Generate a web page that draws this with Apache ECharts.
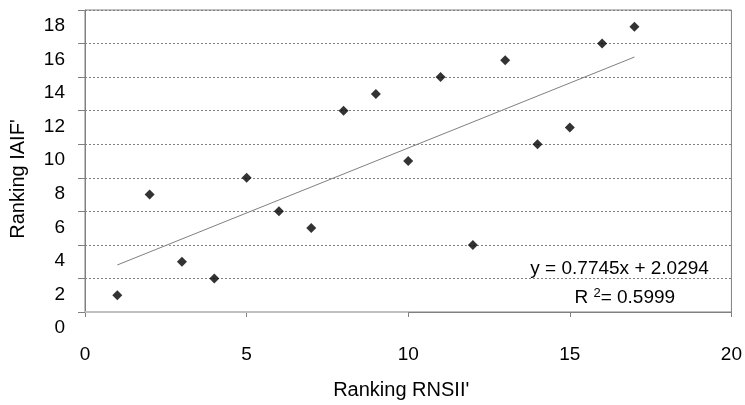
<!DOCTYPE html>
<html>
<head>
<meta charset="utf-8">
<script src="https://cdn.jsdelivr.net/npm/echarts@6/dist/echarts.min.js"></script>
<style>
  html, body { margin: 0; padding: 0; background: #ffffff; }
  #chart { width: 745px; height: 405px; }
</style>
</head>
<body>
<div id="chart"></div>
<script>
// Rankings of the 17 items under both indices
const rankRNSII = [1, 2, 3, 4, 5, 6, 7, 8, 9, 10, 11, 12, 13, 14, 15, 16, 17];
const rankIAIF  = [1, 7, 3, 2, 8, 6, 5, 12, 13, 9, 14, 4, 15, 10, 11, 16, 17];

// Linear trend line fitted to the rankings
const trendSlope = 0.7745;
const trendIntercept = 2.0294;
const trendR2 = 0.5999;
const trendRange = [1, 17];

// Axis extents
const xAxisRange = [0, 20, 5];
const yAxisRange = [0, 18, 2];

const FONT = "'Liberation Sans', Arial, sans-serif";

const points = rankRNSII.map((x, i) => [x, rankIAIF[i]]);
const trendPoints = trendRange.map(x => [x, trendSlope * x + trendIntercept]);

const chart = echarts.init(document.getElementById('chart'), null, { renderer: 'canvas' });

chart.setOption({
  animation: false,
  backgroundColor: '#ffffff',
  textStyle: { fontFamily: FONT, color: '#000' },
  grid: {
    left: 84, right: 11, top: 10, bottom: 92,
    show: true, borderColor: '#808080', borderWidth: 1, backgroundColor: 'transparent'
  },
  xAxis: {
    type: 'value',
    min: xAxisRange[0], max: xAxisRange[1], interval: xAxisRange[2],
    name: "Ranking RNSII'",
    nameLocation: 'middle',
    nameGap: 68,
    nameTextStyle: { fontFamily: FONT, fontSize: 20, color: '#000', padding: [0, 14, 0, 0] },
    axisLine: { lineStyle: { color: '#808080', width: 1 } },
    axisTick: { show: true, inside: false, length: 5, lineStyle: { color: '#808080' } },
    axisLabel: { fontFamily: FONT, fontSize: 19, color: '#000', margin: 33 },
    splitLine: { show: false }
  },
  yAxis: {
    type: 'value',
    min: yAxisRange[0], max: yAxisRange[1], interval: yAxisRange[2],
    name: "Ranking IAIF'",
    nameLocation: 'middle',
    nameGap: 57,
    nameRotate: 90,
    nameTextStyle: { fontFamily: FONT, fontSize: 20, color: '#000', padding: [0, 36, 0, 0] },
    axisLine: { show: true, lineStyle: { color: '#808080', width: 1 } },
    axisTick: { show: true, inside: false, length: 7, lineStyle: { color: '#808080' } },
    axisLabel: {
      fontFamily: FONT, fontSize: 19, color: '#000', margin: 20,
      verticalAlign: 'top', lineHeight: 32,
      showMinLabel: true, showMaxLabel: true, hideOverlap: false
    },
    splitLine: { show: true, lineStyle: { color: '#808080', width: 1, type: [2, 2] } }
  },
  series: [
    {
      type: 'line',
      data: trendPoints,
      showSymbol: false,
      symbol: 'none',
      lineStyle: { color: '#808080', width: 1 },
      z: 2,
      markPoint: {
        symbol: 'circle',
        symbolSize: 1,
        itemStyle: { color: 'rgba(0,0,0,0)' },
        silent: true,
        label: {
          show: true,
          position: 'inside',
          fontFamily: FONT,
          fontSize: 19,
          color: '#000',
          align: 'center',
          verticalAlign: 'middle',
          rich: {
            base: { fontFamily: FONT, fontSize: 19, color: '#000' },
            sup: { fontFamily: FONT, fontSize: 13, color: '#000', padding: [0, 0, 9, 0] }
          }
        },
        data: [
          {
            coord: [16.54, 2.6],
            label: { formatter: 'y = ' + trendSlope.toFixed(4) + 'x + ' + trendIntercept.toFixed(4) }
          },
          {
            coord: [16.7, 0.85],
            label: { formatter: '{base|R }{sup|2}{base|= ' + trendR2.toFixed(4) + '}' }
          }
        ]
      }
    },
    {
      type: 'scatter',
      data: points,
      symbol: 'diamond',
      symbolSize: 10,
      itemStyle: { color: '#000' },
      z: 3,
      markLine: {
        silent: true,
        symbol: 'none',
        z: 10,
        label: { show: false },
        lineStyle: { color: '#c0c0c0', width: 2, type: 'solid' },
        data: [[{ coord: [0, 0] }, { coord: [10, 0] }]]
      }
    }
  ]
});
</script>
</body>
</html>
